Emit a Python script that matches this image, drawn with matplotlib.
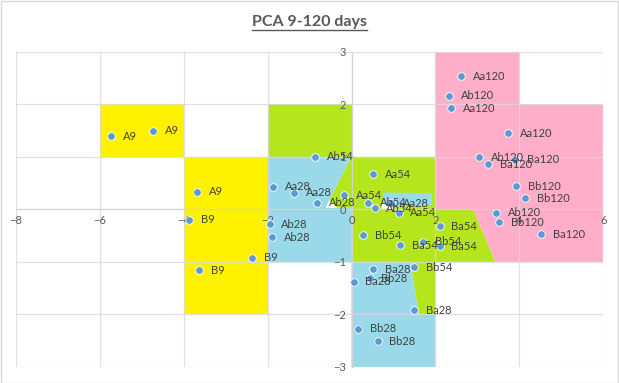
import matplotlib
matplotlib.use('Agg')
import matplotlib.pyplot as plt
from matplotlib.patches import Polygon, Rectangle
from matplotlib.lines import Line2D

plt.rcParams['font.family'] = ['Lato', 'DejaVu Sans']

# sample groups and their PCA scores (PC1, PC2)
groups = ['A9', 'B9', 'Aa28', 'Ab28', 'Ba28', 'Bb28', 'Aa54', 'Ab54', 'Ba54', 'Bb54',
          'Aa120', 'Ab120', 'Ba120', 'Bb120']
pc1 = {
    'A9': [-5.72, -4.72, -3.68],
    'B9': [-3.86, -2.36, -3.64],
    'Aa28': [-1.86, -1.36, 0.94],
    'Ab28': [-0.82, -1.95, -1.89],
    'Ba28': [0.51, 0.05, 1.50],
    'Bb28': [0.43, 0.15, 0.62],
    'Aa54': [0.52, -0.17, 1.12],
    'Ab54': [-0.86, 0.40, 0.55],
    'Ba54': [2.10, 1.15, 2.10],
    'Bb54': [0.27, 1.70, 1.50],
    'Aa120': [2.61, 2.37, 3.74],
    'Ab120': [2.33, 3.04, 3.45],
    'Ba120': [3.25, 3.90, 4.51],
    'Bb120': [3.92, 4.14, 3.52],
}
pc2 = {
    'A9': [1.39, 1.50, 0.335],
    'B9': [-0.20, -0.92, -1.16],
    'Aa28': [0.43, 0.32, 0.12],
    'Ab28': [0.13, -0.28, -0.53],
    'Ba28': [-1.14, -1.38, -1.92],
    'Bb28': [-1.31, -2.27, -2.51],
    'Aa54': [0.67, 0.27, -0.06],
    'Ab54': [1.00, 0.13, 0.02],
    'Ba54': [-0.32, -0.68, -0.70],
    'Bb54': [-0.49, -0.62, -1.10],
    'Aa120': [2.53, 1.92, 1.45],
    'Ab120': [2.16, 0.99, -0.06],
    'Ba120': [0.86, 0.94, -0.47],
    'Bb120': [0.44, 0.21, -0.25],
}

# hand-drawn group regions (vertices in PC units)
yellow_a = [(-6, 1), (-4, 1), (-4, 2), (-6, 2)]
yellow_b = [(-4, -2), (-2, -2), (-2, 1), (-4, 1)]
green_top = [(-2, 1), (0, 1), (0, 2), (-2, 2)]
blue_left = [(-2, -1), (-2, 1), (0, 1), (-0.62, 0.03), (0, 0.03), (0, -1)]
green_main = [(0, 1), (2, 1), (2, 0), (2.9, 0), (3.43, -1), (2, -1), (2, -2), (1.6, -2),
              (1.4, -1), (0, -1), (0, 0.03), (-0.33, 0.03), (-0.53, 0.17)]
blue_low = [(0, -1), (1.4, -1), (1.6, -2), (2, -2), (2, -3), (0, -3)]
blue_patch = [(0.75, 0.32), (1.92, 0.31), (1.92, 0.08), (1.0, 0.05), (0.75, 0.0)]
white_gap = [(0.72, 0.0), (1.04, 0.0), (0.72, 0.12)]
pink = [(2, 3), (4, 3), (4, 2), (6, 2), (6, -1), (3.43, -1), (2.9, 0), (2, 0)]

regions = [(yellow_a, '#FFF200'), (yellow_b, '#FFF200'), (green_top, '#B5E61D'),
           (blue_left, '#99D9EA'), (green_main, '#B5E61D'), (blue_low, '#99D9EA'),
           (blue_patch, '#99D9EA'), (white_gap, 'white'), (pink, '#FFAEC9')]

fig = plt.figure(figsize=(6.19, 3.83), dpi=100)
ax = fig.add_axes([0.0254, 0.0418, 0.9493, 0.8232])

for verts, col in regions:
    ax.add_patch(Polygon(verts, closed=True, facecolor=col, edgecolor='none', zorder=1))

ax.set_xlim(-8, 6)
ax.set_ylim(-3, 3)
ax.set_xticks(range(-8, 7, 2))
ax.set_yticks(range(-3, 4))
ax.grid(True, color='#D9D9D9', linewidth=0.9, alpha=0.8, zorder=2)
ax.set_axisbelow(False)

for s in ['top', 'right']:
    ax.spines[s].set_visible(False)
ax.spines['left'].set_position('zero')
ax.spines['bottom'].set_position('zero')
ax.spines['left'].set_color('#BFBFBF')
ax.spines['bottom'].set_color('#BFBFBF')
ax.spines['left'].set_zorder(2.5)
ax.spines['bottom'].set_zorder(2.5)
ax.tick_params(length=0, labelsize=8, labelcolor='#595959')
ax.tick_params(axis='x', pad=4)
ax.tick_params(axis='y', pad=4)

for g in groups:
    ax.plot(pc1[g], pc2[g], 'o', color='#5B9BD5', markersize=5.5,
            markeredgecolor='white', markeredgewidth=0.6, zorder=4)
    for x, y in zip(pc1[g], pc2[g]):
        ax.annotate(g, (x, y), xytext=(8.5, 0), textcoords='offset points',
                    ha='left', va='center', fontsize=8, color='#404040', zorder=5)

t = fig.text(0.5, 0.943, 'PCA 9-120 days', ha='center', va='center',
             fontsize=11.5, weight='bold', color='#595959')
fig.canvas.draw()
bb = t.get_window_extent().transformed(fig.transFigure.inverted())
fig.add_artist(Line2D([bb.x0, bb.x1], [bb.y0 - 0.004, bb.y0 - 0.004],
                      transform=fig.transFigure, color='#595959', linewidth=1))

fig.add_artist(Rectangle((0.001, 0.001), 0.997, 0.997, transform=fig.transFigure,
                         fill=False, edgecolor='#D9D9D9', linewidth=1))

fig.savefig('out.png', dpi=100)
